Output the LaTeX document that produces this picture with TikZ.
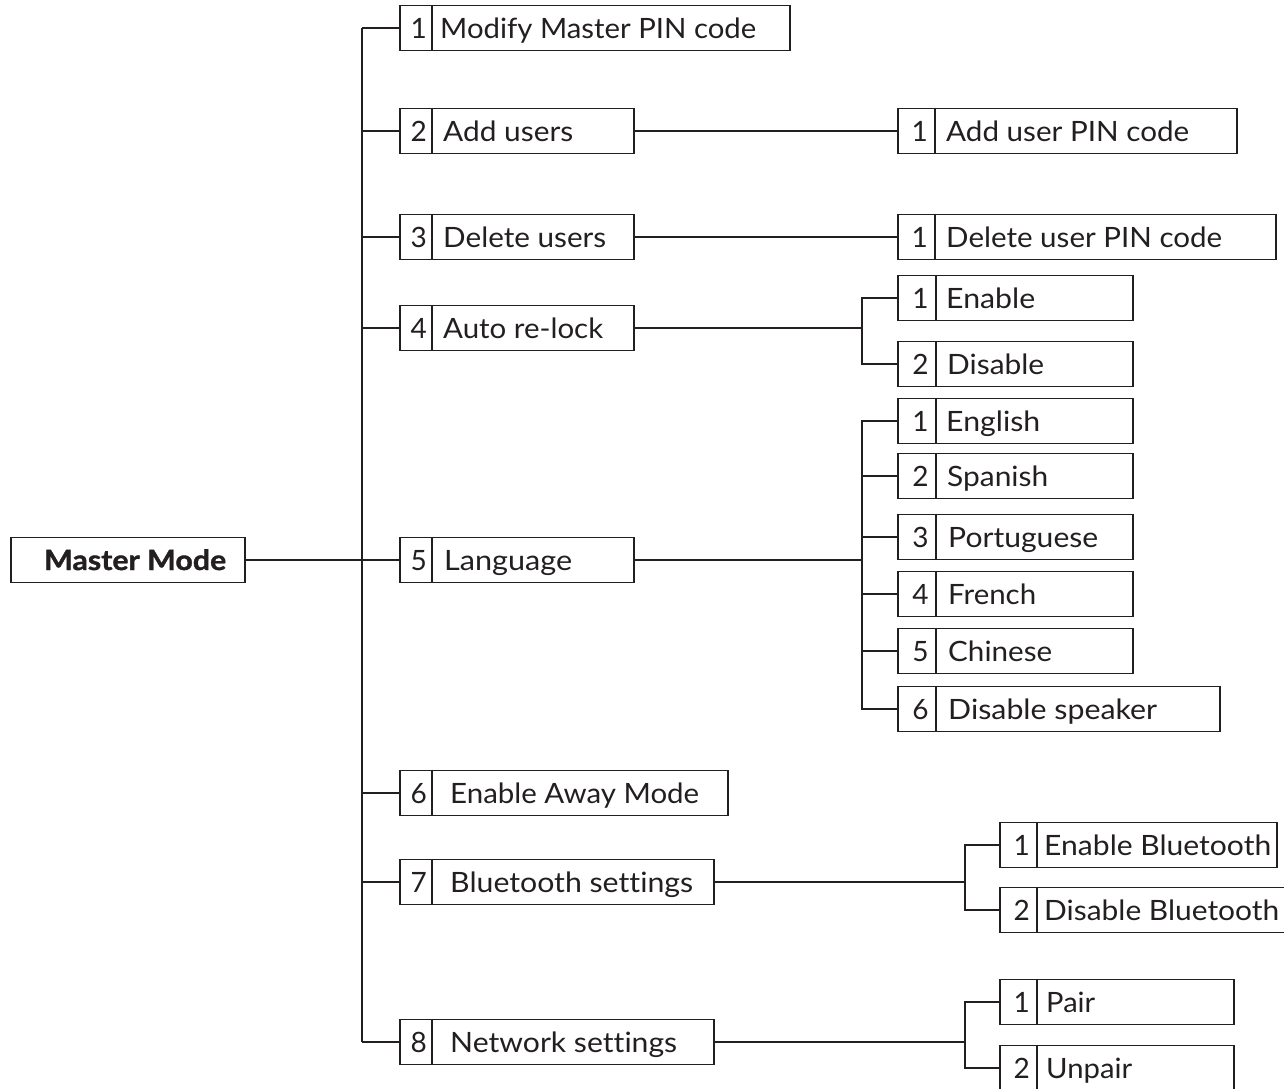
\documentclass[tikz,border=0pt]{standalone}
\usepackage{fontspec}
\setmainfont{Lato}[Ligatures=NoCommon]
\newfontfamily\mmfont{Lato}[Ligatures=NoCommon, BoldFeatures={FakeBold=1.2}]
\usetikzlibrary{calc}
\definecolor{ink}{HTML}{231F20}
\newsavebox\fitbox
\newcommand\fitw[2]{\sbox\fitbox{#2}\pgfmathsetmacro\fitr{#1/\the\wd\fitbox}\scalebox{\fitr}[1]{\usebox\fitbox}}
\tikzset{
  itembox/.style={draw=ink, line width=1.6pt, inner sep=0pt, minimum height=45pt, rectangle},
  conn/.style={draw=ink, line width=1.4pt},
  txt/.style={inner sep=0pt, text=ink, font=\fontsize{28}{34}\selectfont},
}
% name, left x, centre y, width, cell width, number, label, label gap, label width
\newcommand\mitem[9]{%
  \node[itembox, minimum width=#4pt, anchor=west] (#1) at (#2,#3) {};
  \draw[draw=ink, line width=1.6pt] ($(#1.north west)+(#5,0)$) -- ($(#1.south west)+(#5,0)$);
  \node[txt, anchor=base] (#1n) at ($(#1.west)+(#5*0.6,10)$) {#6};
  \node[txt, anchor=base west] (#1t) at ($(#1.west)+(#5+#8,10)$) {\fitw{#9}{#7}};
}
\begin{document}
\begin{tikzpicture}[x=1pt,y=-1pt]
\useasboundingbox (0,0) rectangle (1284,1088);
\clip (0,0) rectangle (1284,1088);
% root
\node[itembox, minimum width=234pt, anchor=west] (mm) at (10,560) {};
\node[txt, anchor=base west, font=\fontsize{28}{34}\selectfont\mmfont\bfseries] (mmt) at ($(mm.west)+(34,10)$) {\fitw{182}{Master Mode}};
% level 1
\mitem{m1}{399}{28}{390}{33}{1}{Modify Master PIN code}{8}{316}
\mitem{m2}{399}{131}{234}{33}{2}{Add users}{11}{130}
\mitem{m3}{399}{237}{234}{33}{3}{Delete users}{11}{163}
\mitem{m4}{399}{328}{234}{33}{4}{Auto re-lock}{11}{160}
\mitem{m5}{399}{560}{234}{33}{5}{Language}{12}{128}
\mitem{m6}{399}{793}{328}{33}{6}{Enable Away Mode}{18}{249}
\mitem{m7}{399}{882}{314}{33}{7}{Bluetooth settings}{18}{243}
\mitem{m8}{399}{1042}{314}{33}{8}{Network settings}{18}{227}
% level 2
\mitem{s21}{897}{131}{339}{38}{1}{Add user PIN code}{11}{243}
\mitem{s31}{897}{237}{378}{38}{1}{Delete user PIN code}{11}{276}
\mitem{s41}{897}{298}{235}{39}{1}{Enable}{10}{89}
\mitem{s42}{897}{364}{235}{39}{2}{Disable}{11}{97}
\mitem{l1}{897}{421}{235}{39}{1}{English}{10}{94}
\mitem{l2}{897}{476}{235}{39}{2}{Spanish}{11}{101}
\mitem{l3}{897}{537}{235}{39}{3}{Portuguese}{12}{150}
\mitem{l4}{897}{594}{235}{39}{4}{French}{12}{88}
\mitem{l5}{897}{651}{235}{39}{5}{Chinese}{12}{104}
\mitem{l6}{897}{709}{322}{39}{6}{Disable speaker}{12}{209}
\mitem{bt1}{999}{845}{277}{38}{1}{Enable Bluetooth}{7}{227}
\mitem{bt2}{999}{910}{300}{38}{2}{Disable Bluetooth}{7}{235}
\mitem{p1}{999}{1002}{234}{38}{1}{Pair}{9}{49}
\mitem{p2}{999}{1068}{234}{38}{2}{Unpair}{9}{86}
% connectors
\coordinate (tk) at (362,0);
\coordinate (b4) at (862,0);
\coordinate (b7) at (965,0);
\draw[conn] (mm.east) -- (m5.west);
\foreach \n in {m1,m2,m3,m4,m6,m7,m8} \draw[conn] (\n.west) -- (\n.west -| tk);
\draw[conn] (m1.west -| tk) -- (m8.west -| tk);
\draw[conn] (m2.east) -- (s21.west);
\draw[conn] (m3.east) -- (s31.west);
\draw[conn] (m4.east) -- (m4.east -| b4);
\draw[conn] (s41.west) -| (b4 |- s42.west) -- (s42.west);
\draw[conn] (m5.east) -- (m5.east -| b4);
\draw[conn] (l1.west) -| (b4 |- l6.west) -- (l6.west);
\foreach \n in {l2,l3,l4,l5} \draw[conn] (\n.west) -- (\n.west -| b4);
\draw[conn] (m7.east) -- (m7.east -| b7);
\draw[conn] (bt1.west) -| (b7 |- bt2.west) -- (bt2.west);
\draw[conn] (m8.east) -- (m8.east -| b7);
\draw[conn] (p1.west) -| (b7 |- p2.west) -- (p2.west);
\end{tikzpicture}
\end{document}
